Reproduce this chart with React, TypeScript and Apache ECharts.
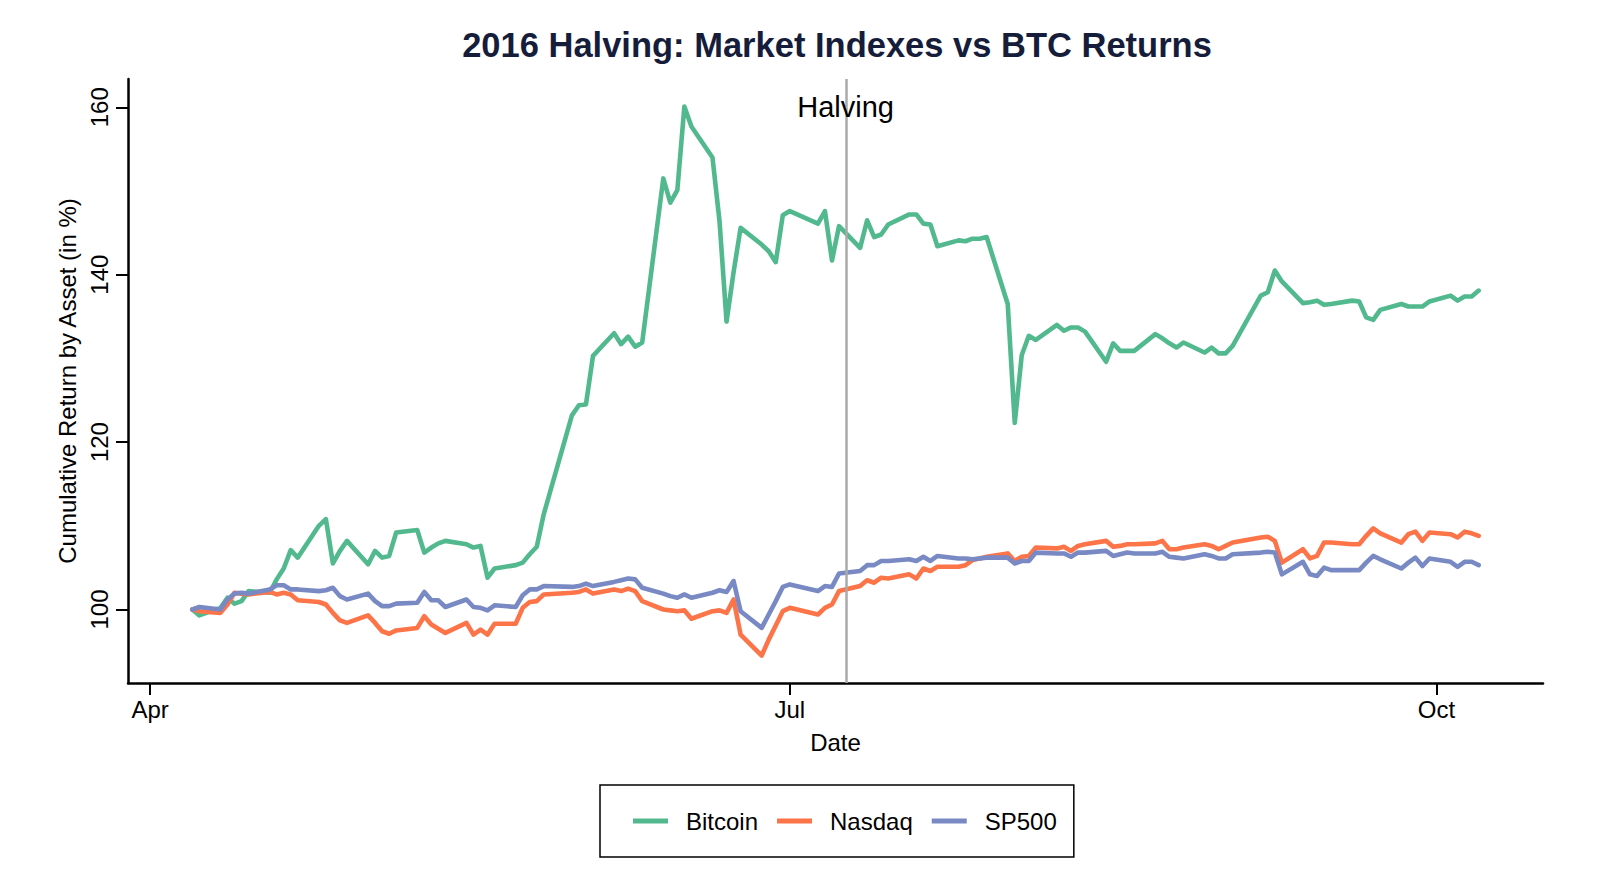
import React, { useEffect, useRef } from "react";
import * as echarts from "echarts";

const dates: string[] = [
  "2016-04-07","2016-04-08","2016-04-11","2016-04-12","2016-04-13","2016-04-14","2016-04-15",
  "2016-04-18","2016-04-19","2016-04-20","2016-04-21","2016-04-22","2016-04-25","2016-04-26",
  "2016-04-27","2016-04-28","2016-04-29","2016-05-02","2016-05-03","2016-05-04","2016-05-05",
  "2016-05-06","2016-05-09","2016-05-10","2016-05-11","2016-05-12","2016-05-13","2016-05-16",
  "2016-05-17","2016-05-18","2016-05-19","2016-05-20","2016-05-23","2016-05-24","2016-05-25",
  "2016-05-26","2016-05-27","2016-05-31","2016-06-01","2016-06-02","2016-06-03","2016-06-06",
  "2016-06-07","2016-06-08","2016-06-09","2016-06-10","2016-06-13","2016-06-14","2016-06-15",
  "2016-06-16","2016-06-17","2016-06-20","2016-06-21","2016-06-22","2016-06-23","2016-06-24",
  "2016-06-27","2016-06-28","2016-06-29","2016-06-30","2016-07-01","2016-07-05","2016-07-06",
  "2016-07-07","2016-07-08","2016-07-11","2016-07-12","2016-07-13","2016-07-14","2016-07-15",
  "2016-07-18","2016-07-19","2016-07-20","2016-07-21","2016-07-22","2016-07-25","2016-07-26",
  "2016-07-27","2016-07-28","2016-07-29","2016-08-01","2016-08-02","2016-08-03","2016-08-04",
  "2016-08-05","2016-08-08","2016-08-09","2016-08-10","2016-08-11","2016-08-12","2016-08-15",
  "2016-08-16","2016-08-17","2016-08-18","2016-08-19","2016-08-22","2016-08-23","2016-08-24",
  "2016-08-25","2016-08-26","2016-08-29","2016-08-30","2016-08-31","2016-09-01","2016-09-02",
  "2016-09-06","2016-09-07","2016-09-08","2016-09-09","2016-09-12","2016-09-13","2016-09-14",
  "2016-09-15","2016-09-16","2016-09-19","2016-09-20","2016-09-21","2016-09-22","2016-09-23",
  "2016-09-26","2016-09-27","2016-09-28","2016-09-29","2016-09-30","2016-10-03","2016-10-04",
  "2016-10-05","2016-10-06","2016-10-07",
];

const bitcoin: number[] = [
  100, 99.3, 100.2, 101.4, 100.7, 101.0, 102.2,
  102.0, 103.6, 104.9, 107.1, 106.2, 110.0, 110.8,
  105.5, 107.0, 108.2, 105.4, 107.0, 106.2, 106.4,
  109.2, 109.5, 106.8, 107.4, 107.9, 108.2, 107.8,
  107.4, 107.6, 103.8, 104.9, 105.3, 105.6, 106.6,
  107.5, 111.4, 123.2, 124.4, 124.5, 130.3, 133.0,
  131.7, 132.6, 131.4, 131.9, 151.5, 148.6, 150.1,
  160.1, 157.7, 154.0, 146.4, 134.4, 140.3, 145.6,
  143.6, 142.8, 141.5, 147.1, 147.6, 146.1, 147.6,
  141.7, 145.8, 143.2, 146.5, 144.5, 144.8, 146.0,
  147.2, 147.2, 146.1, 146.0, 143.4, 144.1, 144.0,
  144.3, 144.3, 144.5, 136.5, 122.3, 130.4, 132.7,
  132.2, 134.0, 133.3, 133.7, 133.7, 133.2, 129.6,
  131.8, 130.9, 130.9, 130.9, 132.9, 132.4, 131.8,
  131.3, 131.9, 130.7, 131.3, 130.6, 130.6, 131.5,
  137.5, 137.9, 140.5, 139.2, 136.6, 136.7, 136.9,
  136.4, 136.5, 136.9, 136.8, 134.9, 134.6, 135.8,
  136.5, 136.2, 136.2, 136.2, 136.8, 137.5, 136.9,
  137.4, 137.4, 138.1,
];

const nasdaq: number[] = [
  100, 99.8, 99.6, 100.6, 102.0, 101.9, 101.8,
  102.1, 101.8, 102.0, 101.8, 101.1, 100.9, 100.6,
  99.6, 98.7, 98.4, 99.3, 98.4, 97.4, 97.1,
  97.5, 97.8, 99.2, 98.2, 97.7, 97.2, 98.4,
  97.0, 97.6, 97.0, 98.3, 98.3, 100.2, 100.9,
  101.0, 101.8, 102.0, 102.1, 102.4, 101.9, 102.4,
  102.2, 102.5, 102.2, 101.0, 100.0, 99.9, 99.8,
  99.9, 98.9, 99.8, 99.9, 99.6, 101.2, 97.0,
  94.5, 96.4, 98.1, 99.8, 100.2, 99.4, 100.2,
  100.6, 102.2, 102.8, 103.5, 103.2, 103.8, 103.7,
  104.2, 103.7, 104.9, 104.6, 105.1, 105.1, 105.3,
  105.9, 106.1, 106.3, 106.7, 105.8, 106.3, 106.4,
  107.4, 107.3, 107.5, 107.0, 107.6, 107.8, 108.2,
  107.5, 107.6, 107.8, 107.8, 107.9, 108.2, 107.2,
  107.2, 107.4, 107.8, 107.6, 107.2, 107.6, 108.0,
  108.6, 108.7, 108.2, 105.6, 107.2, 106.1, 106.4,
  108.0, 108.0, 107.8, 107.8, 108.8, 109.7, 109.1,
  108.0, 109.0, 109.3, 108.2, 109.2, 109.0, 108.6,
  109.3, 109.1, 108.8,
];

const sp500: number[] = [
  100, 100.3, 100.0, 101.2, 101.9, 102.0, 101.9,
  102.4, 102.9, 102.9, 102.4, 102.4, 102.2, 102.3,
  102.6, 101.6, 101.2, 101.9, 101.0, 100.4, 100.4,
  100.7, 100.8, 102.1, 101.1, 101.1, 100.3, 101.2,
  100.3, 100.2, 99.9, 100.5, 100.3, 101.7, 102.4,
  102.4, 102.8, 102.7, 102.8, 103.1, 102.8, 103.3,
  103.5, 103.7, 103.6, 102.6, 101.9, 101.6, 101.4,
  101.8, 101.4, 102.0, 102.3, 102.1, 103.4, 99.8,
  97.8, 99.4, 101.0, 102.7, 103.0, 102.2, 102.8,
  102.7, 104.3, 104.6, 105.3, 105.3, 105.8, 105.8,
  106.0, 105.8, 106.3, 105.8, 106.4, 106.1, 106.1,
  106.0, 106.1, 106.2, 106.2, 105.5, 105.8, 105.8,
  106.8, 106.7, 106.7, 106.3, 106.8, 106.8, 107.0,
  106.4, 106.6, 106.8, 106.7, 106.7, 106.9, 106.3,
  106.2, 106.1, 106.6, 106.4, 106.1, 106.1, 106.6,
  106.8, 106.9, 106.8, 104.2, 105.7, 104.2, 104.0,
  105.0, 104.7, 104.7, 104.7, 105.6, 106.4, 106.0,
  104.9, 105.6, 106.2, 105.2, 106.1, 105.7, 105.1,
  105.7, 105.7, 105.3,
];

const seriesNames: string[] = ["Bitcoin", "Nasdaq", "SP500"];
const seriesColors: string[] = ["#52b98f", "#fc7448", "#7889c3"];
const xTickDates: string[] = ["2016-04-01", "2016-07-01", "2016-10-01"];
const xTickLabels: string[] = ["Apr", "Jul", "Oct"];
const yTicks: number[] = [100, 120, 140, 160];
const halvingDate = "2016-07-09";
const halvingLabel = "Halving";
const halvingLabelValue = 160.0;

const ts = (s: string) => {
  const [y, m, d] = s.split("-").map(Number);
  return Date.UTC(y, m - 1, d);
};

const DAY = 86400000;
const FONT = "'Liberation Sans', Arial, Helvetica, sans-serif";

export default function App() {
  const ref = useRef<HTMLDivElement>(null);

  useEffect(() => {
    if (!ref.current) return;
    const chart = echarts.init(ref.current, undefined, { renderer: "svg" });
    const t0 = ts(dates[0]);
    const t1 = ts(dates[dates.length - 1]);
    const span = t1 - t0;
    const xMin = t0 - span * 0.05;
    const xMax = t1 + span * 0.05;
    const tickTs = xTickDates.map(ts);
    const allVals = [...bitcoin, ...nasdaq, ...sp500];
    const vMin = Math.min(...allVals);
    const vMax = Math.max(...allVals);
    const vSpan = vMax - vMin;

    const lineSeries = [bitcoin, nasdaq, sp500].map((vals, i) => ({
      name: seriesNames[i],
      type: "line",
      data: dates.map((d, j) => [ts(d), vals[j]]),
      symbol: "none",
      showSymbol: false,
      color: seriesColors[i],
      lineStyle: { width: 4.6, color: seriesColors[i], join: "round", cap: "round" },
      itemStyle: { color: seriesColors[i] },
      silent: true,
    }));

    chart.setOption({
      animation: false,
      textStyle: { fontFamily: FONT },
      title: {
        text: "2016 Halving: Market Indexes vs BTC Returns",
        left: 837,
        top: 27,
        padding: 0,
        textAlign: "center",
        textStyle: { fontSize: 34.5, fontWeight: "bold", color: "#161d3a", fontFamily: FONT },
      },
      grid: { left: 128, right: 57, top: 79, bottom: 206 },
      legend: {
        data: seriesNames.map((n) => ({ name: n, icon: "rect" })),
        left: 600,
        top: 785,
        orient: "horizontal",
        padding: [24, 17, 24, 33],
        itemWidth: 35,
        itemHeight: 5,
        itemGap: 19,
        borderColor: "#000",
        borderWidth: 1.5,
        textStyle: {
          fontSize: 24,
          lineHeight: 24,
          height: 24,
          color: "#000",
          fontFamily: FONT,
          padding: [0, 0, 0, 13],
        },
      },
      xAxis: {
        type: "value",
        min: xMin,
        max: xMax,
        name: "Date",
        nameLocation: "middle",
        nameGap: 47,
        nameTextStyle: { fontSize: 24, color: "#000", fontFamily: FONT },
        axisLine: { show: true, onZero: false, lineStyle: { color: "#000", width: 2.5 } },
        axisTick: { show: true, length: 12, lineStyle: { color: "#000", width: 2 }, customValues: tickTs },
        axisLabel: {
          customValues: tickTs,
          margin: 14,
          fontSize: 24,
          color: "#000",
          fontFamily: FONT,
          formatter: (v: number) => {
            const i = tickTs.findIndex((t) => Math.abs(t - v) < DAY / 2);
            return i >= 0 ? xTickLabels[i] : "";
          },
        },
        splitLine: { show: false },
      },
      yAxis: {
        type: "value",
        min: vMin - vSpan * 0.05,
        max: vMax + vSpan * 0.05,
        name: "Cumulative Return by Asset (in %)",
        nameLocation: "middle",
        nameGap: 49,
        nameTextStyle: { fontSize: 24, color: "#000", fontFamily: FONT },
        axisLine: { show: true, lineStyle: { color: "#000", width: 2.5 } },
        axisTick: { show: true, length: 12, lineStyle: { color: "#000", width: 2 }, customValues: yTicks },
        axisLabel: {
          customValues: yTicks,
          rotate: 90,
          margin: 17,
          fontSize: 24,
          color: "#000",
          fontFamily: FONT,
        },
        splitLine: { show: false },
      },
      series: [
        ...lineSeries,
        {
          name: "halvingLine",
          type: "line",
          data: [],
          silent: true,
          markLine: {
            silent: true,
            symbol: ["none", "none"],
            label: { show: false },
            lineStyle: { color: "#aaaaaa", width: 2.5, type: "solid" },
            data: [{ xAxis: ts(halvingDate) }],
          },
        },
        {
          name: "halving",
          type: "scatter",
          data: [[ts(halvingDate), halvingLabelValue]],
          symbolSize: 1,
          itemStyle: { color: "#ffffff", opacity: 1 },
          silent: true,
          z: 5,
          label: {
            show: true,
            position: [0, 0],
            align: "center",
            verticalAlign: "middle",
            formatter: halvingLabel,
            fontSize: 29,
            color: "#000000",
            textBorderWidth: 0,
            opacity: 1,
            fontFamily: FONT,
          },
        },
      ],
    });

    return () => chart.dispose();
  }, []);

  return (
    <div
      ref={ref}
      style={{ position: "fixed", left: 0, top: 0, width: 1600, height: 889, background: "#fff" }}
    />
  );
}
